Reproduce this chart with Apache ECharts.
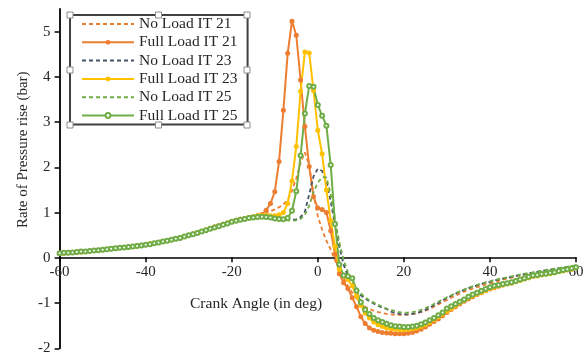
<!DOCTYPE html>
<html>
<head>
<meta charset="utf-8">
<script src="https://cdn.jsdelivr.net/npm/echarts@6/dist/echarts.min.js"></script>
<style>
  html, body { margin: 0; padding: 0; background: #fff; }
  #chart { width: 584px; height: 354px; }
</style>
</head>
<body>
<div id="chart"></div>
<script>
// crank angle, -60 .. 60 deg, 1 deg step
const angles = Array.from({ length: 121 }, (_, i) => i - 60)

const xTicks = [-60, -40, -20, 0, 20, 40, 60]
const yTicks = [-2, -1, 0, 1, 2, 3, 4, 5]

// values, one per degree from -60 to 60
const noLoad21 = [
  0.10, 0.11, 0.11, 0.12, 0.13, 0.14, 0.14, 0.15, 0.16, 0.17,
  0.18, 0.19, 0.20, 0.21, 0.22, 0.23, 0.24, 0.25, 0.26, 0.28,
  0.29, 0.31, 0.32, 0.34, 0.36, 0.38, 0.40, 0.42, 0.45, 0.47,
  0.50, 0.53, 0.56, 0.59, 0.62, 0.65, 0.68, 0.71, 0.74, 0.77,
  0.80, 0.83, 0.85, 0.87, 0.89, 0.90, 0.93, 0.95, 0.98, 1.03,
  1.07, 1.12, 1.18, 1.28, 1.48, 1.76, 2.10, 2.33, 2.05, 1.40,
  0.92, 0.62, 0.38, 0.18, -0.05, -0.25, -0.45, -0.62, -0.77, -0.90,
  -1.00, -1.08, -1.13, -1.17, -1.20, -1.22, -1.24, -1.25, -1.26, -1.26,
  -1.26, -1.25, -1.24, -1.22, -1.20, -1.17, -1.13, -1.08, -1.03, -0.98,
  -0.93, -0.88, -0.84, -0.79, -0.75, -0.71, -0.68, -0.65, -0.62, -0.59,
  -0.57, -0.54, -0.51, -0.48, -0.46, -0.44, -0.41, -0.39, -0.37, -0.35,
  -0.34, -0.32, -0.30, -0.28, -0.27, -0.25, -0.24, -0.22, -0.21, -0.19,
  -0.18
]
const fullLoad21 = [
  0.10, 0.10, 0.11, 0.12, 0.13, 0.13, 0.14, 0.15, 0.16, 0.17,
  0.18, 0.19, 0.20, 0.21, 0.22, 0.23, 0.24, 0.25, 0.27, 0.28,
  0.29, 0.30, 0.32, 0.34, 0.36, 0.38, 0.40, 0.42, 0.44, 0.47,
  0.50, 0.52, 0.55, 0.58, 0.61, 0.65, 0.68, 0.71, 0.74, 0.77,
  0.80, 0.83, 0.85, 0.87, 0.89, 0.91, 0.93, 0.96, 1.05, 1.20,
  1.46, 2.13, 3.26, 4.52, 5.23, 4.92, 3.93, 2.90, 2.02, 1.35,
  1.10, 1.07, 1.00, 0.60, 0.08, -0.35, -0.55, -0.68, -0.88, -1.08,
  -1.30, -1.45, -1.55, -1.60, -1.63, -1.65, -1.66, -1.67, -1.68, -1.68,
  -1.68, -1.67, -1.65, -1.62, -1.58, -1.53, -1.47, -1.41, -1.35, -1.28,
  -1.21, -1.14, -1.08, -1.02, -0.96, -0.91, -0.86, -0.81, -0.77, -0.73,
  -0.69, -0.66, -0.63, -0.60, -0.57, -0.55, -0.52, -0.49, -0.46, -0.44,
  -0.41, -0.39, -0.37, -0.35, -0.33, -0.32, -0.30, -0.28, -0.26, -0.24,
  -0.22
]
const noLoad23 = [
  0.10, 0.11, 0.11, 0.12, 0.13, 0.13, 0.14, 0.15, 0.16, 0.17,
  0.18, 0.19, 0.20, 0.21, 0.22, 0.23, 0.24, 0.25, 0.26, 0.27,
  0.29, 0.30, 0.32, 0.34, 0.36, 0.38, 0.40, 0.42, 0.44, 0.47,
  0.50, 0.52, 0.55, 0.58, 0.61, 0.64, 0.67, 0.70, 0.73, 0.76,
  0.80, 0.82, 0.84, 0.86, 0.88, 0.89, 0.91, 0.92, 0.91, 0.90,
  0.88, 0.86, 0.85, 0.84, 0.84, 0.85, 0.90, 1.02, 1.40, 1.80,
  1.97, 1.92, 1.70, 1.25, 0.72, 0.25, -0.15, -0.40, -0.58, -0.72,
  -0.83, -0.90, -0.96, -1.01, -1.06, -1.10, -1.13, -1.19, -1.22, -1.24,
  -1.25, -1.25, -1.24, -1.22, -1.19, -1.15, -1.10, -1.05, -1.00, -0.94,
  -0.89, -0.84, -0.79, -0.75, -0.71, -0.67, -0.64, -0.61, -0.58, -0.55,
  -0.53, -0.50, -0.48, -0.46, -0.44, -0.42, -0.40, -0.38, -0.36, -0.34,
  -0.33, -0.31, -0.29, -0.28, -0.26, -0.25, -0.23, -0.22, -0.20, -0.19,
  -0.17
]
const fullLoad23 = [
  0.10, 0.10, 0.11, 0.12, 0.12, 0.13, 0.14, 0.15, 0.16, 0.17,
  0.18, 0.19, 0.20, 0.21, 0.22, 0.23, 0.24, 0.25, 0.26, 0.28,
  0.29, 0.31, 0.32, 0.34, 0.36, 0.38, 0.40, 0.42, 0.45, 0.47,
  0.50, 0.53, 0.56, 0.59, 0.62, 0.65, 0.68, 0.71, 0.74, 0.77,
  0.80, 0.83, 0.85, 0.87, 0.89, 0.91, 0.93, 0.94, 0.94, 0.93,
  0.93, 0.95, 1.00, 1.20, 1.70, 2.46, 3.68, 4.55, 4.53, 3.70,
  2.82, 2.30, 1.50, 0.82, 0.25, -0.25, -0.40, -0.48, -0.62, -0.85,
  -1.05, -1.22, -1.33, -1.42, -1.48, -1.52, -1.55, -1.57, -1.58, -1.59,
  -1.59, -1.58, -1.57, -1.55, -1.52, -1.48, -1.43, -1.37, -1.31, -1.25,
  -1.18, -1.12, -1.06, -1.00, -0.94, -0.89, -0.84, -0.80, -0.76, -0.72,
  -0.68, -0.65, -0.62, -0.60, -0.58, -0.56, -0.53, -0.50, -0.47, -0.44,
  -0.41, -0.40, -0.38, -0.36, -0.35, -0.33, -0.31, -0.29, -0.27, -0.25,
  -0.22
]
const noLoad25 = [
  0.10, 0.11, 0.11, 0.12, 0.13, 0.14, 0.14, 0.15, 0.16, 0.17,
  0.18, 0.19, 0.20, 0.21, 0.22, 0.23, 0.24, 0.25, 0.26, 0.27,
  0.29, 0.30, 0.32, 0.34, 0.36, 0.38, 0.40, 0.42, 0.44, 0.47,
  0.50, 0.52, 0.55, 0.58, 0.61, 0.64, 0.67, 0.70, 0.73, 0.76,
  0.80, 0.82, 0.84, 0.86, 0.88, 0.89, 0.91, 0.92, 0.91, 0.89,
  0.87, 0.85, 0.84, 0.83, 0.82, 0.83, 0.86, 0.95, 1.15, 1.45,
  1.66, 1.78, 1.78, 1.40, 0.85, 0.35, -0.05, -0.32, -0.52, -0.67,
  -0.79, -0.87, -0.94, -0.99, -1.04, -1.08, -1.12, -1.15, -1.18, -1.20,
  -1.21, -1.21, -1.20, -1.18, -1.15, -1.11, -1.07, -1.02, -0.97, -0.92,
  -0.87, -0.83, -0.78, -0.74, -0.70, -0.66, -0.63, -0.60, -0.57, -0.54,
  -0.52, -0.49, -0.47, -0.45, -0.43, -0.41, -0.39, -0.37, -0.35, -0.34,
  -0.32, -0.30, -0.29, -0.27, -0.26, -0.24, -0.23, -0.21, -0.20, -0.18,
  -0.17
]
const fullLoad25 = [
  0.10, 0.11, 0.11, 0.12, 0.13, 0.14, 0.14, 0.15, 0.16, 0.17,
  0.18, 0.19, 0.20, 0.21, 0.22, 0.23, 0.24, 0.25, 0.26, 0.27,
  0.29, 0.30, 0.32, 0.34, 0.36, 0.38, 0.40, 0.42, 0.44, 0.47,
  0.50, 0.52, 0.55, 0.58, 0.61, 0.64, 0.67, 0.70, 0.73, 0.76,
  0.80, 0.82, 0.84, 0.86, 0.88, 0.89, 0.90, 0.91, 0.90, 0.89,
  0.87, 0.86, 0.85, 0.88, 1.04, 1.47, 2.26, 3.19, 3.80, 3.78,
  3.38, 3.14, 2.92, 2.05, 0.75, -0.15, -0.39, -0.41, -0.45, -0.72,
  -0.98, -1.15, -1.24, -1.33, -1.38, -1.42, -1.46, -1.49, -1.51, -1.52,
  -1.53, -1.53, -1.52, -1.50, -1.47, -1.43, -1.38, -1.33, -1.27, -1.21,
  -1.12, -1.07, -1.02, -0.97, -0.92, -0.86, -0.81, -0.77, -0.73, -0.69,
  -0.65, -0.62, -0.60, -0.58, -0.56, -0.54, -0.51, -0.48, -0.45, -0.42,
  -0.39, -0.38, -0.36, -0.35, -0.33, -0.32, -0.29, -0.27, -0.25, -0.23,
  -0.21
]

const seriesNames = [
  'No Load IT 21', 'Full Load IT 21',
  'No Load IT 23', 'Full Load IT 23',
  'No Load IT 25', 'Full Load IT 25'
]
const seriesValues = [noLoad21, fullLoad21, noLoad23, fullLoad23, noLoad25, fullLoad25]
const seriesColors = ['#ED7D31', '#ED7D31', '#44546A', '#FFC000', '#70AD47', '#70AD47']

const font = 'Liberation Serif'
const textColor = '#262626'

const chart = echarts.init(document.getElementById('chart'))

const series = seriesNames.map((name, k) => {
  const full = name.startsWith('Full')
  const hollow = k === 5
  return {
    name,
    type: 'line',
    data: angles.map((a, i) => [a, seriesValues[k][i]]),
    symbol: full ? (hollow ? 'emptyCircle' : 'circle') : 'none',
    symbolSize: hollow ? 4 : 5,
    showSymbol: full,
    lineStyle: {
      color: seriesColors[k],
      width: full ? 2 : 1.8,
      type: full ? 'solid' : [4, 3]
    },
    itemStyle: { color: seriesColors[k], borderWidth: hollow ? 1.2 : 0 },
    emphasis: { disabled: true },
    animation: false
  }
})

// legend entries: dashed ones get no marker
const legendData = seriesNames.map(name => (
  name.startsWith('Full') ? { name } : { name, itemStyle: { opacity: 0 } }
))

// legend selection handles (the box was selected in the source picture)
const handles = []
const hx = [70, 158.5, 247]
const hy = [15, 70, 125]
hx.forEach((x, i) => hy.forEach((y, j) => {
  if (i === 1 && j === 1) return
  handles.push({
    type: 'rect',
    shape: { x: x - 3, y: y - 3, width: 6, height: 6 },
    style: { fill: '#fff', stroke: '#8c8c8c', lineWidth: 1 },
    z: 100
  })
}))

const option = {
  backgroundColor: '#fff',
  textStyle: { fontFamily: font, color: textColor },
  grid: { left: 59.6, right: 8, top: 9, bottom: 5.7, containLabel: false, outerBoundsMode: 'none' },
  xAxis: {
    type: 'value',
    min: -60,
    max: 60,
    interval: 20,
    position: 'bottom',
    offset: -91,
    axisLine: { onZero: false, lineStyle: { color: '#000', width: 1.5 } },
    axisTick: { show: true, length: 5, inside: false, lineStyle: { color: '#000', width: 1.5 } },
    axisLabel: { fontFamily: font, fontSize: 15, color: textColor, margin: 7 },
    splitLine: { show: false }
  },
  yAxis: {
    type: 'value',
    min: -2,
    max: 5.5,
    axisLine: { show: true, onZero: false, lineStyle: { color: '#000', width: 1.8 } },
    axisTick: { show: true, length: 5, customValues: yTicks, lineStyle: { color: '#000', width: 1.5 } },
    axisLabel: { fontFamily: font, fontSize: 15, color: textColor, margin: 9, customValues: yTicks },
    splitLine: { show: false }
  },
  legend: {
    show: true,
    orient: 'vertical',
    left: 70,
    top: 15,
    data: legendData,
    itemWidth: 52,
    itemHeight: 6,
    itemGap: 2.3,
    padding: [1, 10, 1, 11],
    borderColor: '#404040',
    borderWidth: 2,
    backgroundColor: '#fff',
    selectedMode: false,
    textStyle: { fontFamily: font, fontSize: 15.5, lineHeight: 15, color: textColor }
  },
  graphic: [
    {
      type: 'text',
      left: 190,
      top: 296,
      style: { text: 'Crank Angle (in deg)', font: '15.5px "Liberation Serif"', fill: textColor }
    },
    {
      type: 'text',
      x: 16,
      y: 228,
      rotation: Math.PI / 2,
      style: { text: 'Rate of Pressure rise (bar)', font: '15px "Liberation Serif"', fill: textColor }
    },
    ...handles
  ],
  series
}

chart.setOption(option)
</script>
</body>
</html>
